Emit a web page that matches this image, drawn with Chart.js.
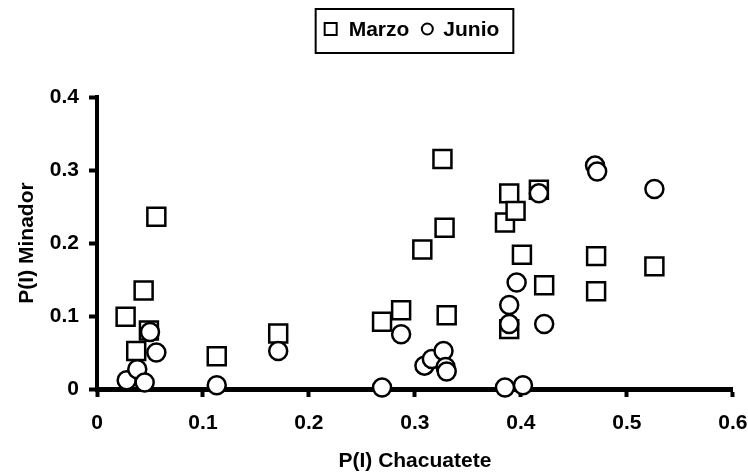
<!DOCTYPE html>
<html>
<head>
<meta charset="utf-8">
<script src="https://cdn.jsdelivr.net/npm/chart.js@4"></script>
<style>
  html, body { margin: 0; padding: 0; background: #fff; }
  #wrap { width: 748px; height: 476px; }
</style>
</head>
<body>
<div id="wrap"><canvas id="grafico" width="748" height="476"></canvas></div>
<script>
// Datos
var marzoX = [0.027, 0.037, 0.044, 0.049, 0.056, 0.113, 0.171, 0.269, 0.287, 0.307, 0.326, 0.328,
              0.330, 0.385, 0.389, 0.389, 0.395, 0.401, 0.417, 0.422, 0.471, 0.471, 0.526];
var marzoY = [0.099, 0.052, 0.135, 0.080, 0.236, 0.045, 0.076, 0.092, 0.108, 0.191, 0.315, 0.221,
              0.101, 0.228, 0.268, 0.082, 0.244, 0.184, 0.273, 0.142, 0.182, 0.134, 0.168];

var junioX = [0.028, 0.038, 0.045, 0.050, 0.056, 0.113, 0.171, 0.269, 0.287, 0.309, 0.316, 0.327,
              0.329, 0.330, 0.385, 0.389, 0.389, 0.396, 0.402, 0.417, 0.422, 0.470, 0.472, 0.526];
var junioY = [0.012, 0.027, 0.009, 0.078, 0.050, 0.005, 0.052, 0.002, 0.075, 0.032, 0.041, 0.052,
              0.030, 0.024, 0.002, 0.089, 0.115, 0.146, 0.005, 0.268, 0.089, 0.306, 0.298, 0.274];

var series = ['Marzo', 'Junio'];
var xTitulo = 'P(I) Chacuatete';
var yTitulo = 'P(I) Minador';

function puntos(xs, ys) {
    return xs.map(function (x, i) { return { x: x, y: ys[i] }; });
}

var fuente = { family: '"Liberation Sans", Arial, sans-serif', size: 21, weight: 'bold' };

// Leyenda con recuadro, dibujada a mano
var leyendaCaja = {
    id: 'leyendaCaja',
    afterDraw: function (chart) {
        var ctx = chart.ctx;
        ctx.save();
        ctx.font = 'bold 21px "Liberation Sans", Arial, sans-serif';
        var w1 = ctx.measureText(series[0]).width;
        var w2 = ctx.measureText(series[1]).width;
        var total = 9 + 12 + 12 + w1 + 12 + 12 + 10 + w2 + 14;
        var left = 414.5 - total / 2;
        var top = 9, alto = 44;
        ctx.strokeStyle = '#000';
        ctx.lineWidth = 2;
        ctx.strokeRect(left, top, total, alto);

        var cy = 29;
        var x = left + 9;
        ctx.lineWidth = 2;
        ctx.strokeRect(x, cy - 6, 12, 12);
        x += 12 + 12;
        ctx.fillStyle = '#000';
        ctx.textBaseline = 'middle';
        ctx.textAlign = 'left';
        ctx.fillText(series[0], x, cy + 1);
        x += w1 + 12;
        ctx.beginPath();
        ctx.arc(x + 6, cy, 5.5, 0, Math.PI * 2);
        ctx.stroke();
        x += 12 + 10;
        ctx.fillText(series[1], x, cy + 1);
        ctx.restore();
    }
};

var ctx = document.getElementById('grafico').getContext('2d');
var grafico = new Chart(ctx, {
    type: 'scatter',
    data: {
        datasets: [{
            label: series[0],
            data: puntos(marzoX, marzoY),
            pointStyle: 'rect',
            pointRadius: 12.7,
            pointHoverRadius: 12.7,
            backgroundColor: '#fff',
            borderColor: '#000',
            borderWidth: 2.5,
            clip: false,
            order: 1
        }, {
            label: series[1],
            data: puntos(junioX, junioY),
            pointStyle: 'circle',
            pointRadius: 9,
            pointHoverRadius: 9,
            backgroundColor: '#fff',
            borderColor: '#000',
            borderWidth: 2.5,
            clip: false,
            order: 0
        }]
    },
    options: {
        responsive: false,
        animation: false,
        devicePixelRatio: 1,
        layout: { padding: { left: 0, right: 13, top: 97, bottom: 0 } },
        plugins: {
            legend: { display: false },
            tooltip: { enabled: false }
        },
        scales: {
            x: {
                type: 'linear',
                min: 0,
                max: 0.6,
                afterFit: function (scale) {
                    scale.height = 87;
                    // el rotulo 0.6 queda pegado al borde, como en el original
                    scale.paddingRight = 0;
                    scale.paddingLeft = 0;
                },
                border: { display: true, color: '#000', width: 5 },
                grid: { drawOnChartArea: false, drawTicks: true, tickLength: 8, tickWidth: 4, tickColor: '#000' },
                ticks: {
                    stepSize: 0.1,
                    color: '#000',
                    padding: 14,
                    font: fuente,
                    callback: function (v) { return v === 0 ? '0' : v.toFixed(1); }
                },
                title: { display: true, text: xTitulo, color: '#000', font: fuente, padding: { top: 0, bottom: 2 } }
            },
            y: {
                type: 'linear',
                min: 0,
                max: 0.4,
                afterFit: function (scale) { scale.width = 97; },
                border: { display: true, color: '#000', width: 4 },
                grid: { drawOnChartArea: false, drawTicks: true, tickLength: 8, tickWidth: 4, tickColor: '#000' },
                ticks: {
                    stepSize: 0.1,
                    color: '#000',
                    padding: 10,
                    font: fuente,
                    callback: function (v) { return v === 0 ? '0' : v.toFixed(1); }
                },
                title: { display: true, text: yTitulo, color: '#000', font: fuente, padding: { top: 15, bottom: 0 } }
            }
        }
    },
    plugins: [leyendaCaja]
});
</script>
</body>
</html>
